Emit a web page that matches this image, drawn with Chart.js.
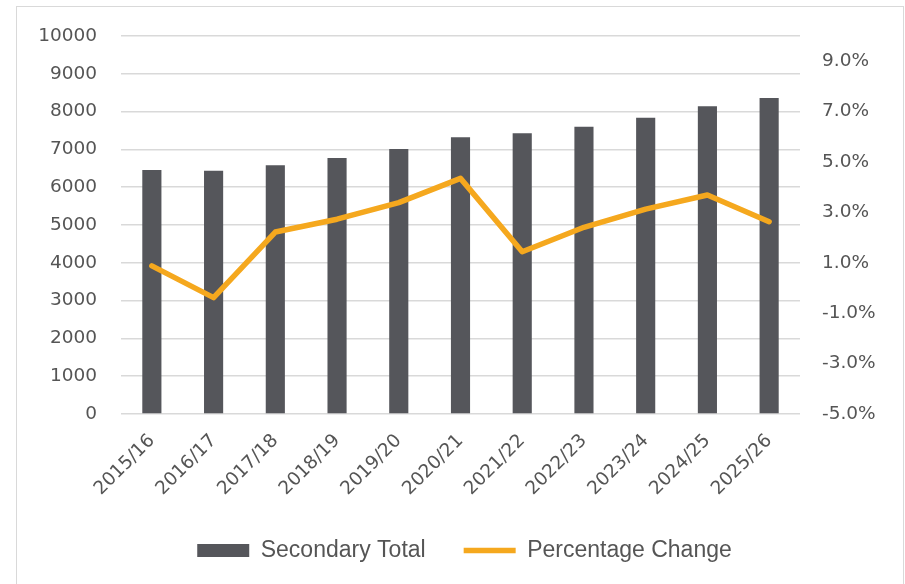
<!DOCTYPE html>
<html>
<head>
<meta charset="utf-8">
<script src="https://cdn.jsdelivr.net/npm/chart.js@4.4.1/dist/chart.umd.min.js"></script>
<style>
  body { margin: 0; background: #fff; }
  .wrap { position: relative; width: 905px; height: 584px; overflow: hidden; }
  .frame { position: absolute; left: 16px; top: 6px; width: 886px; height: 600px; border: 1px solid #d9d9d9; }
  canvas { position: absolute; left: 0; top: 0; }
</style>
</head>
<body>
<div class="wrap">
  <div class="frame"></div>
  <canvas id="myChart"></canvas>
</div>
<script>
const years = ['2015/16', '2016/17', '2017/18', '2018/19', '2019/20', '2020/21', '2021/22', '2022/23', '2023/24', '2024/25', '2025/26'];
const secondaryTotal = [6455, 6437, 6580, 6772, 7010, 7320, 7425, 7600, 7840, 8140, 8360];
const percentChange = [0.88, -0.38, 2.22, 2.73, 3.39, 4.35, 1.44, 2.41, 3.13, 3.69, 2.63];
const leftTicks = [0, 1000, 2000, 3000, 4000, 5000, 6000, 7000, 8000, 9000, 10000];
const rightTicks = [-5, -3, -1, 1, 3, 5, 7, 9];

const textGrey = '#555555';
const tickFont = { family: 'DejaVu Sans', size: 18.5 };

const ctx = document.getElementById('myChart');

new Chart(ctx, {
    data: {
        labels: years,
        datasets: [{
            type: 'bar',
            label: 'Secondary Total',
            data: secondaryTotal,
            backgroundColor: '#55565b',
            yAxisID: 'y',
            categoryPercentage: 0.62,
            barPercentage: 0.5,
            order: 1,
            pointStyle: 'rect'
        }, {
            type: 'line',
            label: 'Percentage Change',
            data: percentChange,
            borderColor: '#f5a81e',
            backgroundColor: '#f5a81e',
            borderWidth: 5.5,
            borderCapStyle: 'round',
            borderJoinStyle: 'round',
            pointRadius: 0,
            tension: 0,
            yAxisID: 'y1',
            order: 0,
            pointStyle: 'line'
        }]
    },
    options: {
        responsive: true,
        maintainAspectRatio: false,
        animation: false,
        layout: {
            padding: { top: 36, bottom: 12, left: 24, right: 0 }
        },
        plugins: {
            tooltip: { enabled: false },
            legend: {
                position: 'bottom',
                labels: {
                    usePointStyle: true,
                    pointStyleWidth: 52,
                    boxHeight: 13,
                    padding: 38,
                    color: textGrey,
                    font: { family: 'Liberation Sans', size: 23 },
                    sort: (a, b) => a.datasetIndex - b.datasetIndex
                }
            }
        },
        scales: {
            x: {
                grid: { display: false },
                border: { display: false },
                ticks: {
                    color: textGrey,
                    font: tickFont,
                    minRotation: 45,
                    maxRotation: 45,
                    padding: 8
                },
                afterFit: (scale) => { scale.height = 87; }
            },
            y: {
                position: 'left',
                min: 0,
                max: 10000,
                border: { display: false },
                grid: { color: '#d9d9d9', lineWidth: 1.5, drawTicks: false },
                ticks: {
                    color: textGrey,
                    font: tickFont,
                    padding: 24,
                    callback: (v) => String(v)
                },
                afterBuildTicks: (scale) => { scale.ticks = leftTicks.map(v => ({ value: v })); },
                afterFit: (scale) => { scale.width = 97; }
            },
            y1: {
                position: 'right',
                min: -5,
                max: 10,
                border: { display: false },
                grid: { display: false, drawTicks: false },
                ticks: {
                    color: textGrey,
                    font: tickFont,
                    padding: 22,
                    callback: (v) => v.toFixed(1) + '%'
                },
                afterBuildTicks: (scale) => { scale.ticks = rightTicks.map(v => ({ value: v })); },
                afterFit: (scale) => { scale.width = 105; }
            }
        }
    }
});
</script>
</body>
</html>
